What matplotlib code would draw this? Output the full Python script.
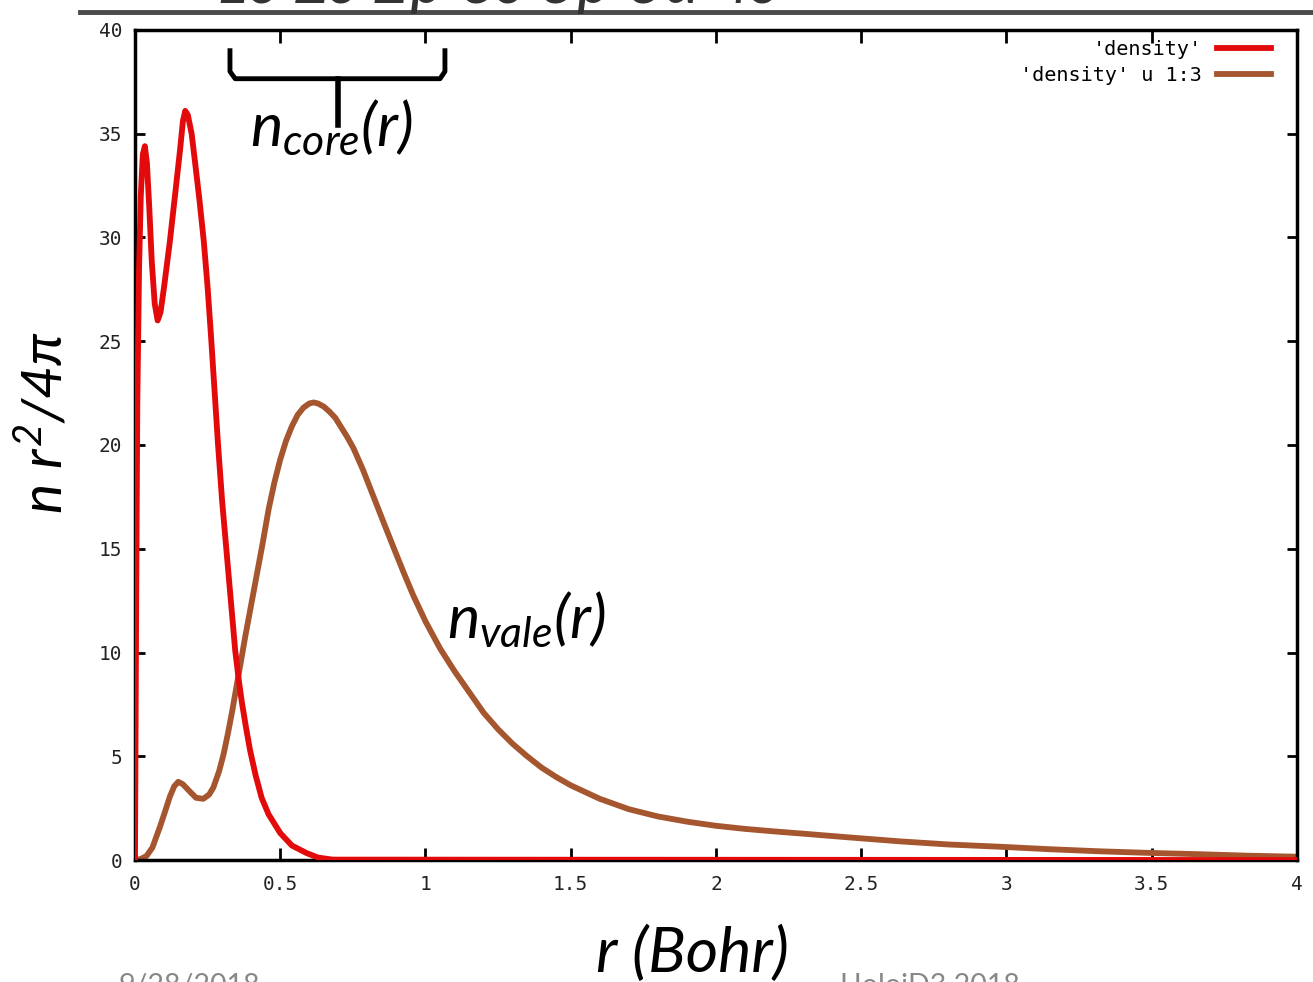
import matplotlib
matplotlib.use("Agg")
import matplotlib.pyplot as plt
from matplotlib.lines import Line2D

# ── Data ──────────────────────────────────────────────────────────────────────
r_core = [0.0, 0.004, 0.008, 0.014, 0.02, 0.027, 0.034, 0.041, 0.049, 0.058,
          0.068, 0.078, 0.088, 0.1, 0.12, 0.14, 0.155, 0.165, 0.173, 0.182,
          0.195, 0.207, 0.222, 0.237, 0.25, 0.262, 0.274, 0.286, 0.3, 0.315,
          0.33, 0.345, 0.358, 0.368, 0.382, 0.396, 0.415, 0.436, 0.46, 0.5,
          0.54, 0.59, 0.63, 0.68, 4.0]
n_core = [0.0, 12.0, 22.0, 28.5, 32.0, 34.0, 34.4, 33.6, 31.5, 28.8,
          26.8, 26.0, 26.4, 27.6, 29.8, 32.3, 34.2, 35.6, 36.1, 35.9,
          35.0, 33.6, 31.8, 29.8, 27.6, 25.2, 22.6, 20.0, 17.3, 14.9,
          12.5, 10.1, 8.6, 7.6, 6.4, 5.3, 4.1, 3.0, 2.2, 1.3,
          0.7, 0.34, 0.12, 0.02, 0.0]

r_vale = [0.0, 0.02, 0.04, 0.06, 0.086, 0.105, 0.12, 0.135, 0.149, 0.165,
          0.189, 0.21, 0.235, 0.255, 0.27, 0.29, 0.305, 0.32, 0.335, 0.35,
          0.365, 0.38, 0.4, 0.42, 0.44, 0.46, 0.48, 0.5, 0.52, 0.54,
          0.56, 0.58, 0.6, 0.615, 0.63, 0.65, 0.67, 0.69, 0.71, 0.73,
          0.752, 0.785, 0.82, 0.855, 0.889, 0.925, 0.958, 1.0, 1.05, 1.1,
          1.15, 1.2, 1.25, 1.3, 1.35, 1.4, 1.45, 1.5, 1.6, 1.7,
          1.8, 1.9, 2.0, 2.1, 2.2, 2.3, 2.45, 2.633, 2.8, 2.978,
          3.15, 3.322, 3.5, 3.666, 3.83, 4.0]
n_vale = [0.0, 0.05, 0.2, 0.6, 1.6, 2.4, 3.05, 3.55, 3.77, 3.65,
          3.3, 3.0, 2.95, 3.15, 3.5, 4.3, 5.1, 6.1, 7.2, 8.4,
          9.6, 10.8, 12.3, 13.8, 15.3, 16.9, 18.2, 19.3, 20.2, 20.9,
          21.45, 21.8, 22.0, 22.05, 22.0, 21.85, 21.6, 21.3, 20.85, 20.4,
          19.85, 18.8, 17.55, 16.3, 15.1, 13.85, 12.75, 11.5, 10.2, 9.1,
          8.1, 7.1, 6.3, 5.6, 5.0, 4.45, 4.0, 3.6, 2.95, 2.45,
          2.1, 1.85, 1.65, 1.5, 1.38, 1.27, 1.1, 0.9, 0.75, 0.64,
          0.52, 0.42, 0.34, 0.28, 0.21, 0.16]

x_ticks = [0, 0.5, 1, 1.5, 2, 2.5, 3, 3.5, 4]
x_tick_labels = ["0", "0.5", "1", "1.5", "2", "2.5", "3", "3.5", "4"]
y_ticks = [0, 5, 10, 15, 20, 25, 30, 35, 40]

series_labels = ["'density'", "'density' u 1:3"]

# ── Style ─────────────────────────────────────────────────────────────────────
plt.rcParams["mathtext.fontset"] = "custom"
plt.rcParams["mathtext.it"] = "Lato:italic"
plt.rcParams["mathtext.rm"] = "Lato:italic"
plt.rcParams["mathtext.cal"] = "Lato:italic"

RED = "#e20a0a"
BROWN = "#a5562e"
MONO = "DejaVu Sans Mono"

fig = plt.figure(figsize=(13.13, 9.82), dpi=100)
ax = fig.add_axes([0.1028, 0.1242, 0.885, 0.8453])

ax.plot(r_core, n_core, color=RED, lw=4.2, label=series_labels[0],
        solid_joinstyle="round", zorder=3)
ax.plot(r_vale, n_vale, color=BROWN, lw=4.2, label=series_labels[1],
        solid_joinstyle="round", zorder=2)

ax.set_xlim(0, 4)
ax.set_ylim(0, 40)
ax.set_xticks(x_ticks)
ax.set_xticklabels(x_tick_labels)
ax.set_yticks(y_ticks)
ax.tick_params(axis="both", direction="in", top=True, right=True,
               width=2, labelsize=14, colors="black")
ax.tick_params(axis="x", length=9, pad=11)
ax.tick_params(axis="y", length=7, pad=9)
for lab in ax.get_xticklabels() + ax.get_yticklabels():
    lab.set_family(MONO)
    lab.set_color("#222222")
for sp in ax.spines.values():
    sp.set_linewidth(2.5)

leg = ax.legend(loc="upper right", bbox_to_anchor=(0.985, 0.998),
                frameon=False, markerfirst=False,
                prop={"family": MONO, "size": 14.5}, handlelength=2.7,
                labelspacing=0.35, borderaxespad=0.0, handletextpad=0.75)

# axis labels (slide annotations)
fig.text(0.035, 0.570, r"$n\ r^{2}/4\pi$", rotation=90, fontsize=41,
         ha="center", va="center")
fig.text(0.527, 0.028, "r (Bohr)", family="Lato", style="italic",
         fontsize=45, ha="center", va="center")

# brace over the core region
ax.plot([0.327, 0.327, 0.345, 1.05, 1.067, 1.067],
        [39.0, 38.0, 37.65, 37.65, 38.0, 39.0],
        color="black", lw=3.5, clip_on=False, zorder=5)
ax.plot([0.699, 0.699], [37.65, 35.4], color="black", lw=4, zorder=5)
ax.text(0.396, 35.2, r"$n_{core}(r)$", fontsize=44, va="center", ha="left")
ax.text(1.074, 11.5, r"$n_{vale}(r)$", fontsize=44, va="center", ha="left")

# slide decorations cut by the screenshot
fig.add_artist(Line2D([0.061, 1.0], [0.988, 0.988], color="#4a4a4a", lw=3.5))
fig.text(0.163, 0.997, "1s 2s 2p 3s 3p 3d 4s", family="Lato", style="italic",
         fontsize=47, color="#333333", ha="left", va="baseline")
fig.text(0.09, -0.012, "9/28/2018", family="Lato", fontsize=20.5,
         color="#888888", ha="left", va="baseline")
fig.text(0.64, -0.012, "HoloiD3 2018", family="Lato", fontsize=20.5,
         color="#888888", ha="left", va="baseline")

fig.patch.set_facecolor("white")
fig.savefig("out.png", dpi=100)
